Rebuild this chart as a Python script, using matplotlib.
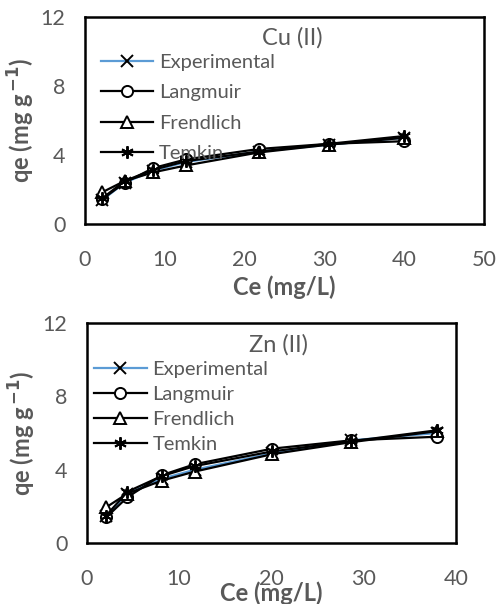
import matplotlib
matplotlib.use("Agg")
import matplotlib.pyplot as plt

plt.rcParams["font.family"] = ["Lato", "DejaVu Sans"]

# Cu (II) isotherm data
cu_ce = [2.2, 5.0, 8.6, 12.7, 21.8, 30.6, 40.0]
cu_exp = [1.4, 2.4, 3.1, 3.6, 4.2, 4.6, 5.0]
cu_lang = [1.45, 2.4, 3.25, 3.75, 4.35, 4.65, 4.8]
cu_frend = [1.85, 2.5, 3.0, 3.4, 4.15, 4.6, 5.0]
cu_temkin = [1.5, 2.5, 3.15, 3.65, 4.2, 4.65, 5.1]

# Zn (II) isotherm data
zn_ce = [2.1, 4.4, 8.1, 11.7, 20.1, 28.6, 37.9]
zn_exp = [1.5, 2.7, 3.5, 4.0, 4.9, 5.6, 6.0]
zn_lang = [1.4, 2.5, 3.7, 4.3, 5.15, 5.6, 5.8]
zn_frend = [1.95, 2.7, 3.4, 3.9, 4.85, 5.5, 6.1]
zn_temkin = [1.5, 2.8, 3.65, 4.2, 5.0, 5.55, 6.15]

labels = ["Experimental", "Langmuir", "Frendlich", "Temkin"]
gray = "#595959"
blue = "#5B9BD5"

fig = plt.figure(figsize=(4.99, 6.04), dpi=100)
ax1 = fig.add_axes([0.170, 0.629, 0.800, 0.343])
ax2 = fig.add_axes([0.174, 0.101, 0.740, 0.364])


def draw(ax, x, series, title, xmax, leg_anchor, spacing):
    ms = 8
    ax.plot(x, series[0], color=blue, lw=1.6, marker="x", ms=ms,
            mec="black", mew=1.4, label=labels[0])
    ax.plot(x, series[1], color="black", lw=1.6, marker="o", ms=ms,
            mfc="white", mec="black", mew=1.4, label=labels[1])
    ax.plot(x, series[2], color="black", lw=1.6, marker="^", ms=ms,
            mfc="white", mec="black", mew=1.4, label=labels[2])
    ax.plot(x, series[3], color="black", lw=1.6, marker=(6, 2, 0), ms=ms + 1,
            mec="black", mew=1.4, label=labels[3])
    ax.set_xlim(0, xmax)
    ax.set_ylim(0, 12)
    ax.set_xticks(range(0, xmax + 1, 10))
    ax.set_yticks([0, 4, 8, 12])
    ax.tick_params(length=0, labelsize=15.5, labelcolor=gray)
    ax.tick_params(axis="x", pad=19)
    ax.tick_params(axis="y", pad=14)
    for s in ax.spines.values():
        s.set_linewidth(1.8)
        s.set_color("black")
    ax.text(0.52, 0.9, title, transform=ax.transAxes, ha="center", va="center",
            fontsize=17, color=gray)
    leg = ax.legend(loc="upper left", bbox_to_anchor=leg_anchor, frameon=False,
                    fontsize=14.5, handlelength=2.6, handletextpad=0.3,
                    labelspacing=spacing, borderpad=0, borderaxespad=0)
    for t in leg.get_texts():
        t.set_color(gray)
    ax.set_ylabel("qe (mg g$^{\\,\\mathbf{-1}}$)", fontsize=17, fontweight="bold",
                  color=gray)
    ax.set_xlabel("Ce (mg/L)", fontsize=17, fontweight="bold", color=gray)


draw(ax1, cu_ce, [cu_exp, cu_lang, cu_frend, cu_temkin], "Cu (II)", 50,
     (0.04, 0.82), 0.65)
draw(ax2, zn_ce, [zn_exp, zn_lang, zn_frend, zn_temkin], "Zn (II)", 40,
     (0.02, 0.83), 0.4)

ax1.yaxis.set_label_coords(-0.12, 0.5)
ax2.yaxis.set_label_coords(-0.133, 0.5)
ax1.xaxis.set_label_coords(0.5, -0.246)
ax2.xaxis.set_label_coords(0.5, -0.173)

fig.savefig("out.png", dpi=100)
